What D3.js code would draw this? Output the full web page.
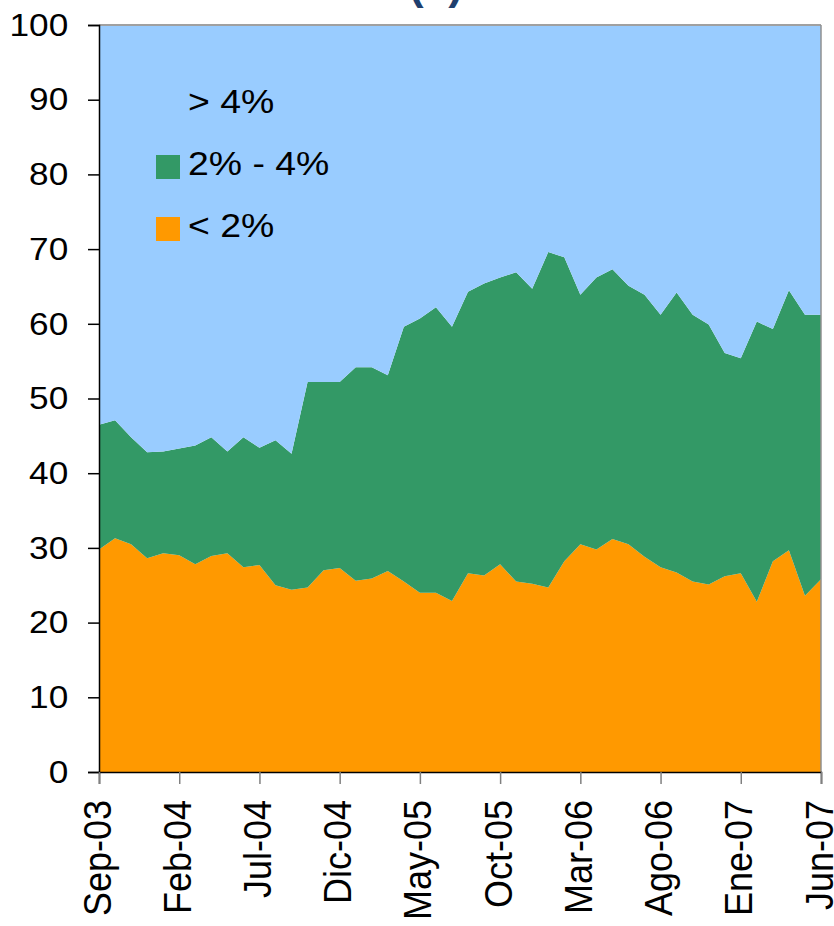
<!DOCTYPE html>
<html>
<head>
<meta charset="utf-8">
<script src="https://cdn.jsdelivr.net/npm/d3@7"></script>
<style>
  body { margin: 0; background: #fff; }
  text { font-family: "Liberation Sans", Arial, sans-serif; }
</style>
</head>
<body>
<div class="center"></div>
<script>
// months (Spanish abbreviations, as in the original)
const months = ["Sep-03","Oct-03","Nov-03","Dic-03",
  "Ene-04","Feb-04","Mar-04","Abr-04","May-04","Jun-04","Jul-04","Ago-04","Sep-04","Oct-04","Nov-04","Dic-04",
  "Ene-05","Feb-05","Mar-05","Abr-05","May-05","Jun-05","Jul-05","Ago-05","Sep-05","Oct-05","Nov-05","Dic-05",
  "Ene-06","Feb-06","Mar-06","Abr-06","May-06","Jun-06","Jul-06","Ago-06","Sep-06","Oct-06","Nov-06","Dic-06",
  "Ene-07","Feb-07","Mar-07","Abr-07","May-07","Jun-07"];

// share of each band, %
const low = [29.8,31.3,30.5,28.6,29.3,29.0,27.8,28.9,29.3,27.4,27.7,25.0,24.4,24.7,27.0,27.3,
  25.6,25.9,26.9,25.5,24.0,24.0,22.9,26.6,26.3,27.8,25.5,25.2,24.7,28.2,30.5,29.8,31.2,30.5,
  28.8,27.4,26.7,25.5,25.1,26.2,26.6,22.8,28.2,29.7,23.6,25.8];
const mid = [16.7,15.8,14.3,14.2,13.6,14.3,15.9,15.9,13.6,17.4,15.7,19.4,18.2,27.5,25.2,24.9,
  28.6,28.3,26.2,34.1,36.7,38.2,36.7,37.7,39.1,38.4,41.4,39.5,44.9,40.7,33.4,36.4,36.1,34.6,
  35.1,33.8,37.5,35.7,34.8,29.9,28.8,37.5,31.1,34.8,37.6,35.4];
const high = [53.5,52.9,55.2,57.2,57.1,56.7,56.3,55.2,57.1,55.2,56.6,55.6,57.4,47.8,47.8,47.8,
  45.8,45.8,46.9,40.4,39.3,37.8,40.4,35.7,34.6,33.8,33.1,35.3,30.4,31.1,36.1,33.8,32.7,34.9,
  36.1,38.8,35.8,38.8,40.1,43.9,44.6,39.7,40.7,35.5,38.8,38.8];

const keys = ["low", "mid", "high"];
const legendLabels = ["< 2%", "2% - 4%", "> 4%"];
const colors = ["#ff9900", "#339966", "#99ccff"];
const yTicks = [0,10,20,30,40,50,60,70,80,90,100];
const xTicks = months.filter((m, i) => i % 5 === 0);

const W = 834, H = 926;
const margin = {top: 25, right: 13, bottom: 154, left: 99};
const width = W - margin.left - margin.right;
const height = H - margin.top - margin.bottom;
const stretch = 1.1; // the original text is a bit wider than tall

const rows = months.map((m, i) => ({month: m, low: low[i], mid: mid[i], high: high[i]}));

const xScale = d3.scalePoint().domain(months).range([0, width]);
const yScale = d3.scaleLinear().domain([0, 100]).range([height, 0]);
const color = d3.scaleOrdinal().domain(keys).range(colors);

const series = d3.stack().keys(keys)(rows);

const area = d3.area()
  .x(d => xScale(d.data.month))
  .y0(d => yScale(d[0]))
  .y1(d => yScale(d[1]));

const root = d3.select(".center").append("svg")
  .attr("width", W)
  .attr("height", H);

// title, cut off at the very top like in the original
root.append("text")
  .attr("x", 436)
  .attr("y", -1)
  .attr("text-anchor", "middle")
  .style("font-size", "44px")
  .style("font-weight", "700")
  .style("fill", "#1f3f6e")
  .text("(a)");

const svg = root.append("g")
  .attr("transform", `translate(${margin.left},${margin.top})`);

svg.selectAll("path.band")
  .data(series)
  .enter().append("path")
  .attr("class", "band")
  .attr("fill", d => color(d.key))
  .attr("d", area);

// frame: gray top/right
svg.append("line")
  .attr("x1", 0).attr("x2", width).attr("y1", 0).attr("y2", 0)
  .attr("stroke", "#a0a0a0").attr("stroke-width", 2);
svg.append("line")
  .attr("x1", width).attr("x2", width).attr("y1", 0).attr("y2", height)
  .attr("stroke", "#909090").attr("stroke-width", 1.5);

// y axis
const yAxis = d3.axisLeft(yScale).tickValues(yTicks).tickSize(11);
const gy = svg.append("g").call(yAxis);
gy.select(".domain").attr("stroke", "#000").attr("stroke-width", 1.5);
gy.selectAll(".tick line").attr("stroke", "#000").attr("stroke-width", 1.5);
gy.selectAll("text")
  .attr("transform", `scale(${stretch},1)`)
  .attr("x", -28)
  .style("font-size", "32px")
  .style("font-family", "'Liberation Sans', Arial, sans-serif")
  .attr("fill", "#000");

// x axis
const xAxis = d3.axisBottom(xScale).tickValues(xTicks).tickSize(12);
const gx = svg.append("g")
  .attr("transform", `translate(0,${height})`)
  .call(xAxis);
gx.select(".domain").attr("stroke", "#000").attr("stroke-width", 1.5);
gx.selectAll(".tick line").attr("stroke", "#808080").attr("stroke-width", 1.5);
gx.selectAll("text")
  .attr("transform", `scale(${stretch},1) rotate(-90)`)
  .attr("text-anchor", "end")
  .attr("x", -28)
  .attr("y", 0)
  .attr("dy", "0.28em")
  .style("font-size", "36px")
  .style("font-family", "'Liberation Sans', Arial, sans-serif")
  .attr("fill", "#000");

// legend (top entry first)
const legendRows = [2, 1, 0];
legendRows.forEach((k, j) => {
  const ly = 113 + j * 62;
  root.append("rect")
    .attr("x", 156)
    .attr("y", ly - 20)
    .attr("width", 24)
    .attr("height", 24)
    .attr("fill", colors[k]);
  root.append("text")
    .attr("transform", `translate(188,${ly}) scale(${stretch},1)`)
    .style("font-size", "34px")
    .attr("fill", "#000")
    .text(legendLabels[k]);
});
</script>
</body>
</html>
